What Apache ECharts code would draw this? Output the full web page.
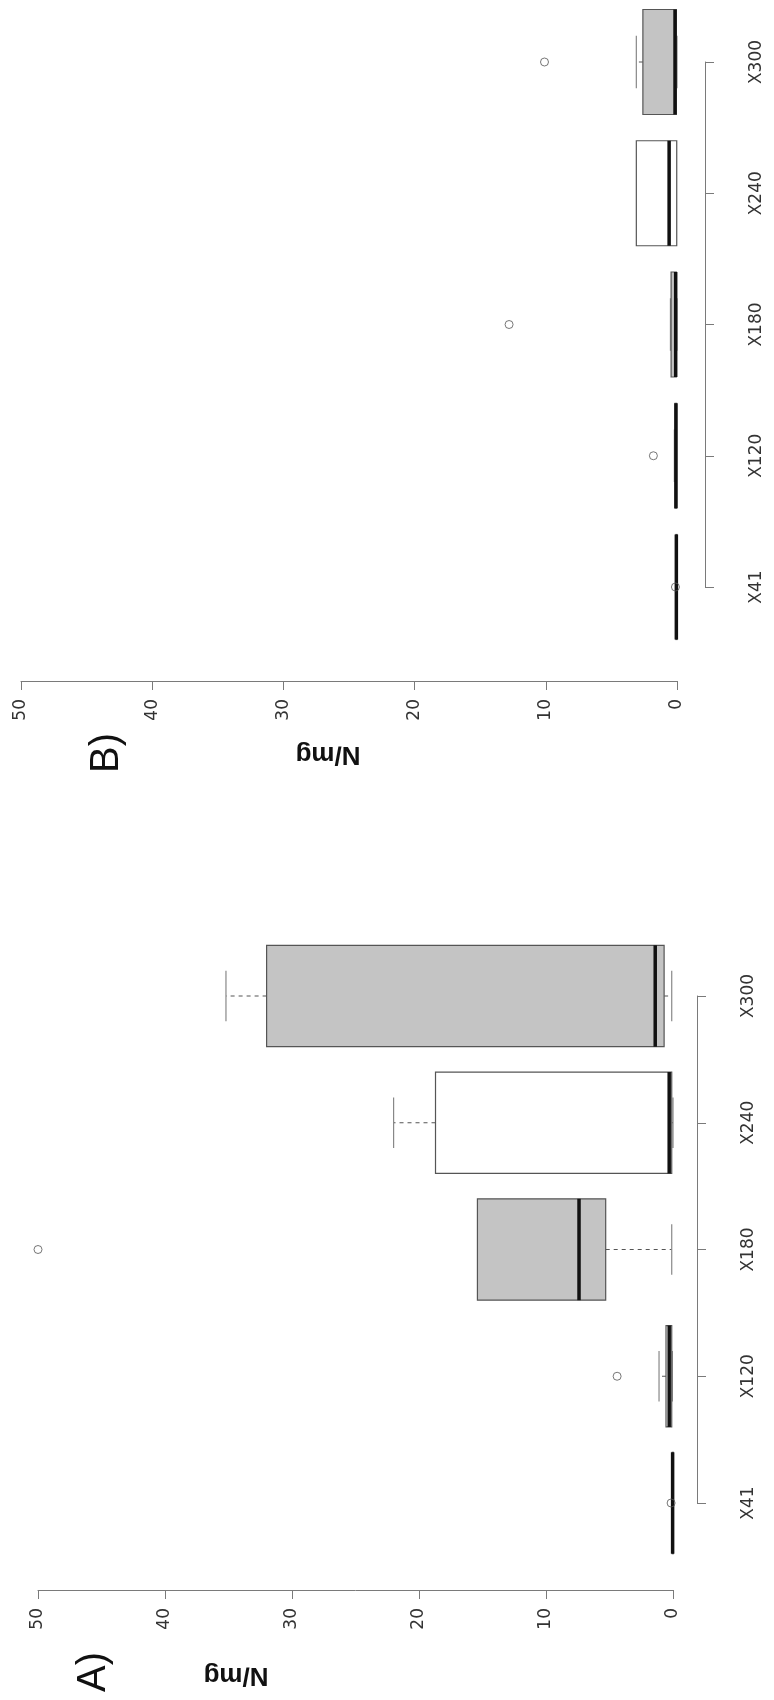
<!DOCTYPE html>
<html>
<head>
<meta charset="utf-8">
<script src="https://cdn.jsdelivr.net/npm/echarts@6/dist/echarts.min.js"></script>
<style>
  html, body { margin: 0; padding: 0; background: #fff; }
  #chart { width: 774px; height: 1700px; }
</style>
</head>
<body>
<div id="chart"></div>
<script>
// Sample groups shared by both panels
const categories = ['X41', 'X120', 'X180', 'X240', 'X300'];

// Panel A: whisker ends, quartiles and medians (N/mg)
const aLow    = [0.00, 0.05, 0.10, 0.00, 0.10];
const aQ1     = [0.01, 0.10, 5.30, 0.10, 0.70];
const aMedian = [0.03, 0.30, 7.40, 0.30, 1.40];
const aQ3     = [0.06, 0.55, 15.4, 18.7, 32.0];
const aHigh   = [0.10, 1.10, 15.4, 22.0, 35.2];
// Panel A outliers: [value, group index]
const aOutliers = [[0.15, 0], [4.4, 1], [50.0, 2]];

// Panel B
const bLow    = [0.00, 0.00, 0.00, 0.00, 0.00];
const bQ1     = [0.02, 0.03, 0.05, 0.02, 0.05];
const bMedian = [0.05, 0.08, 0.10, 0.60, 0.15];
const bQ3     = [0.08, 0.15, 0.45, 3.10, 2.60];
const bHigh   = [0.10, 0.20, 0.50, 3.10, 3.10];
const bOutliers = [[0.12, 0], [1.8, 1], [12.8, 2], [10.1, 4]];

// Value axis range
const valueMin = 0, valueMax = 50, valueStep = 10;

// Alternating box fills
const boxFills = ['#c4c4c4', '#ffffff', '#c4c4c4', '#ffffff', '#c4c4c4'];

const labelFont = 'DejaVu Sans';
const axisGrey = '#7a7a7a';

function boxRows(low, q1, med, q3, high) {
  return categories.map((c, i) => [i, low[i], q1[i], med[i], q3[i], high[i]]);
}

function renderBox(params, api) {
  const i = api.value(0);
  const px = k => api.coord([api.value(k), i]);
  const y = px(3)[1];
  const band = Math.abs(api.coord([0, 1])[1] - api.coord([0, 0])[1]);
  const half = band * 0.4;
  const cap = band * 0.2;
  const xl = px(1)[0], xq1 = px(2)[0], xm = px(3)[0], xq3 = px(4)[0], xh = px(5)[0];
  const children = [];
  const whisker = (xa, xb) => {
    if (Math.abs(xa - xb) < 0.5) return;
    children.push({
      type: 'line',
      shape: { x1: xa, y1: y, x2: xb, y2: y },
      style: { stroke: '#555', lineWidth: 1, lineDash: [4, 4] }
    });
    children.push({
      type: 'line',
      shape: { x1: xb, y1: y - cap, x2: xb, y2: y + cap },
      style: { stroke: '#888', lineWidth: 1.2 }
    });
  };
  whisker(xq3, xh);
  whisker(xq1, xl);
  children.push({
    type: 'rect',
    shape: { x: Math.min(xq1, xq3), y: y - half, width: Math.max(1, Math.abs(xq1 - xq3)), height: half * 2 },
    style: { fill: boxFills[i], stroke: '#555', lineWidth: 1.2 }
  });
  children.push({
    type: 'line',
    shape: { x1: xm, y1: y - half, x2: xm, y2: y + half },
    style: { stroke: '#111', lineWidth: 3.5 }
  });
  return { type: 'group', children };
}

function valueAxis(gridIndex, offset) {
  return {
    gridIndex, type: 'value', min: valueMin, max: valueMax, interval: valueStep,
    inverse: true, position: 'bottom', offset,
    axisLine: { show: true, onZero: false, lineStyle: { color: axisGrey, width: 1 } },
    axisTick: { show: true, length: 9, lineStyle: { color: axisGrey } },
    axisLabel: { rotate: 90, margin: 18, fontSize: 17, color: '#333', fontFamily: labelFont },
    splitLine: { show: false }
  };
}

function categoryAxis(gridIndex, offset) {
  return {
    gridIndex, type: 'category', data: categories, boundaryGap: false,
    position: 'right', offset,
    axisLine: { show: true, onZero: false, lineStyle: { color: axisGrey, width: 1 } },
    axisTick: { show: true, length: 9, lineStyle: { color: axisGrey } },
    axisLabel: { rotate: 90, margin: 43, fontSize: 17, color: '#333', fontFamily: labelFont },
    splitLine: { show: false }
  };
}

function panelSeries(axisIndex, rows, outliers) {
  return [
    {
      type: 'custom', xAxisIndex: axisIndex, yAxisIndex: axisIndex,
      renderItem: renderBox, clip: false,
      encode: { x: [1, 2, 3, 4, 5], y: 0 },
      data: rows
    },
    {
      type: 'scatter', xAxisIndex: axisIndex, yAxisIndex: axisIndex,
      symbol: 'circle', symbolSize: 8,
      itemStyle: { color: 'rgba(0,0,0,0)', borderColor: '#555', borderWidth: 1 },
      data: outliers
    }
  ];
}

const chart = echarts.init(document.getElementById('chart'), null, { renderer: 'canvas' });

chart.setOption({
  backgroundColor: '#ffffff',
  animation: false,
  grid: [
    { left: 38, right: 101, top: 996, height: 507 },
    { left: 21, right: 97, top: 62, height: 525 }
  ],
  xAxis: [valueAxis(0, 87), valueAxis(1, 94)],
  yAxis: [categoryAxis(0, 24), categoryAxis(1, 28)],
  series: [
    ...panelSeries(0, boxRows(aLow, aQ1, aMedian, aQ3, aHigh), aOutliers),
    ...panelSeries(1, boxRows(bLow, bQ1, bMedian, bQ3, bHigh), bOutliers)
  ],
  graphic: [
    { type: 'text', x: 94, y: 1672, rotation: Math.PI / 2,
      style: { text: 'A)', fontSize: 40, fontFamily: 'Liberation Sans', fill: '#111', align: 'center', verticalAlign: 'middle' } },
    { type: 'text', x: 107, y: 753, rotation: Math.PI / 2,
      style: { text: 'B)', fontSize: 40, fontFamily: 'Liberation Sans', fill: '#111', align: 'center', verticalAlign: 'middle' } },
    { type: 'text', x: 236, y: 1675, rotation: Math.PI,
      style: { text: 'N/mg', fontSize: 26, fontWeight: 'bold', fontFamily: 'Liberation Sans', fill: '#111', align: 'center', verticalAlign: 'middle' } },
    { type: 'text', x: 328, y: 754, rotation: Math.PI,
      style: { text: 'N/mg', fontSize: 26, fontWeight: 'bold', fontFamily: 'Liberation Sans', fill: '#111', align: 'center', verticalAlign: 'middle' } }
  ]
});
</script>
</body>
</html>
